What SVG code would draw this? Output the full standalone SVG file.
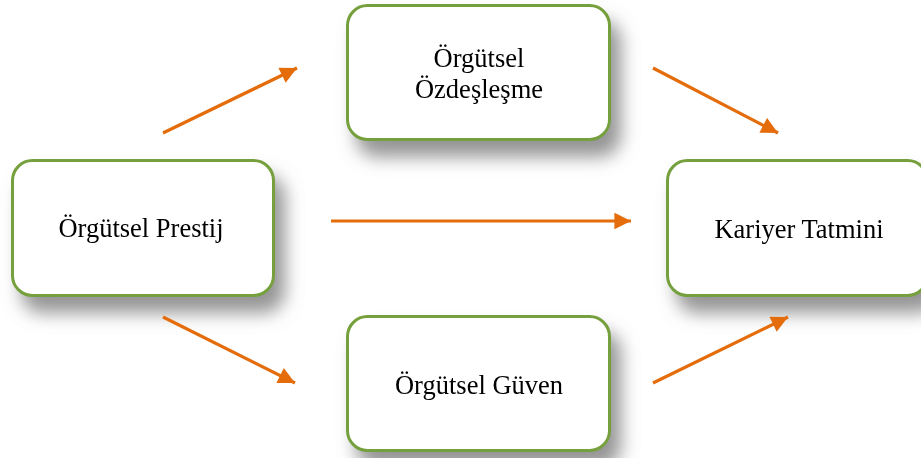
<svg xmlns="http://www.w3.org/2000/svg" width="921" height="458" viewBox="0 0 921 458">
<defs>
<filter id="sh" x="-20%" y="-20%" width="150%" height="170%">
<feGaussianBlur in="SourceAlpha" stdDeviation="9"/>
<feOffset dx="10" dy="16" result="b"/>
<feFlood flood-color="#7a7a7a" flood-opacity="0.8"/>
<feComposite in2="b" operator="in"/>
<feMerge><feMergeNode/><feMergeNode in="SourceGraphic"/></feMerge>
</filter>
<marker id="ah" viewBox="0 0 10 10" refX="10" refY="5" markerWidth="5.6" markerHeight="5.2" markerUnits="strokeWidth" orient="auto">
<path d="M0,0 L10,5 L0,10 Z" fill="#E46C0A"/>
</marker>
</defs>
<style>
.box{fill:#ffffff;stroke:#76a03c;stroke-width:3;}
.t{font-family:"Liberation Serif","Times New Roman",serif;font-size:26.5px;fill:#000;text-anchor:middle;}
.c{stroke:#E46C0A;stroke-width:3.2;fill:none;marker-end:url(#ah);}
</style>
<rect width="921" height="458" fill="#ffffff"/>
<g id="node-prestij" filter="url(#sh)">
<rect class="box" x="12.5" y="160.5" width="261" height="135" rx="20"/>
<text class="t" x="141" y="237">Örgütsel Prestij</text>
</g>
<g id="node-ozdeslesme" filter="url(#sh)">
<rect class="box" x="347.5" y="5.5" width="262" height="134" rx="20"/>
<text class="t" x="479" y="67">Örgütsel</text>
<text class="t" x="479" y="98">Özdeşleşme</text>
</g>
<g id="node-guven" filter="url(#sh)">
<rect class="box" x="347.5" y="316.5" width="262" height="134" rx="20"/>
<text class="t" x="479" y="394">Örgütsel Güven</text>
</g>
<g id="node-kariyer" filter="url(#sh)">
<rect class="box" x="667.5" y="160.5" width="260" height="135" rx="20"/>
<text class="t" x="799" y="238">Kariyer Tatmini</text>
</g>
<g id="connectors">
<line class="c" x1="163" y1="133" x2="297" y2="68"/>
<line class="c" x1="653" y1="68" x2="778" y2="133"/>
<line class="c" x1="331" y1="221" x2="631" y2="221"/>
<line class="c" x1="163" y1="317" x2="295" y2="383"/>
<line class="c" x1="653" y1="383" x2="788" y2="317"/>
</g>
</svg>
